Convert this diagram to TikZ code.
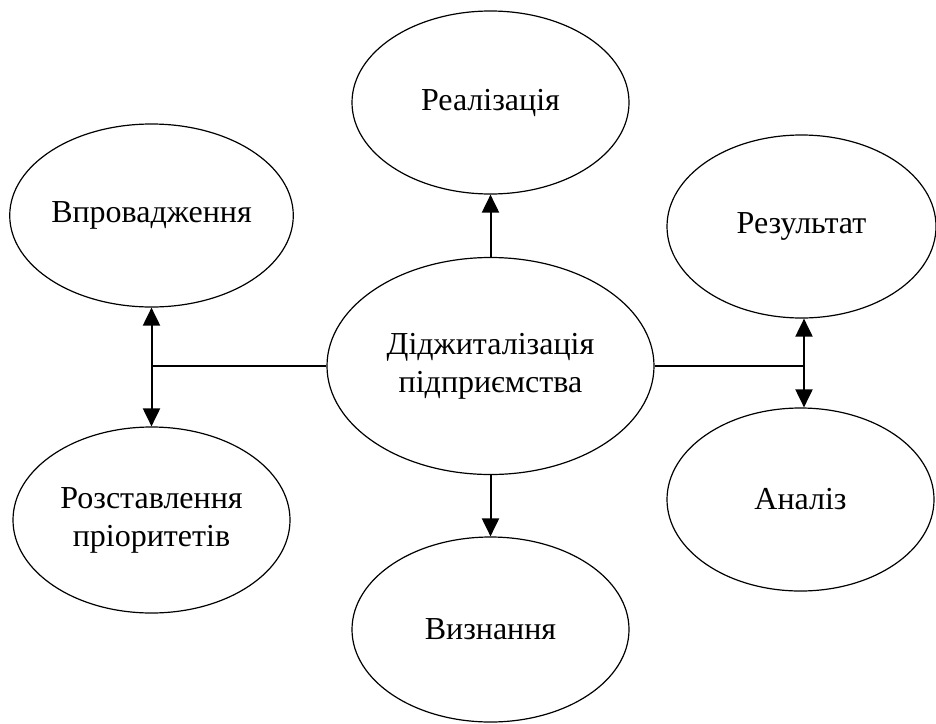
\documentclass[tikz,border=0pt]{standalone}
\usepackage{fontspec}
\setmainfont{Liberation Serif}
\usetikzlibrary{arrows.meta,shapes.geometric}
\begin{document}
\begin{tikzpicture}[x=1pt,y=-1pt,
  bubble/.style={ellipse,draw,line width=1.2pt,inner sep=0pt,align=center,
    font=\fontsize{32}{38}\selectfont},
  link/.style={line width=2pt},
  arr/.style={line width=2pt,-{Triangle[length=18pt,width=17pt]}}]
\useasboundingbox (0,0) rectangle (936,723);
\node[bubble,minimum width=277pt,minimum height=183pt] (real) at (490.5,102.5) {Реалізація};
\node[bubble,minimum width=277pt,minimum height=183pt] (vpro) at (151.5,215.5) {Впровадження};
\node[bubble,minimum width=269pt,minimum height=183pt] (rez) at (801.5,226.5) {Результат};
\node[bubble,minimum width=327pt,minimum height=217pt] (c) at (490.5,366) {Діджиталізація\\підприємства};
\node[bubble,minimum width=277pt,minimum height=186pt] (rozs) at (151.5,520) {Розставлення\\пріоритетів};
\node[bubble,minimum width=267pt,minimum height=183pt] (anal) at (800.5,499.5) {Аналіз};
\node[bubble,minimum width=277pt,minimum height=185pt] (vyzn) at (490.5,629.5) {Визнання};
\coordinate (lj) at (151.5,366);
\coordinate (rj) at (804,366);
\draw[arr] (c.north) -- (real.south);
\draw[arr] (c.south) -- (vyzn.north);
\draw[link] (c.west) -- (lj);
\draw[arr] (lj) -- (vpro.south);
\draw[arr] (lj) -- (rozs.north);
\draw[link] (c.east) -- (rj);
\draw[arr] (rj) -- (rj |- rez.south);
\draw[arr] (rj) -- (rj |- anal.north);
\end{tikzpicture}
\end{document}
